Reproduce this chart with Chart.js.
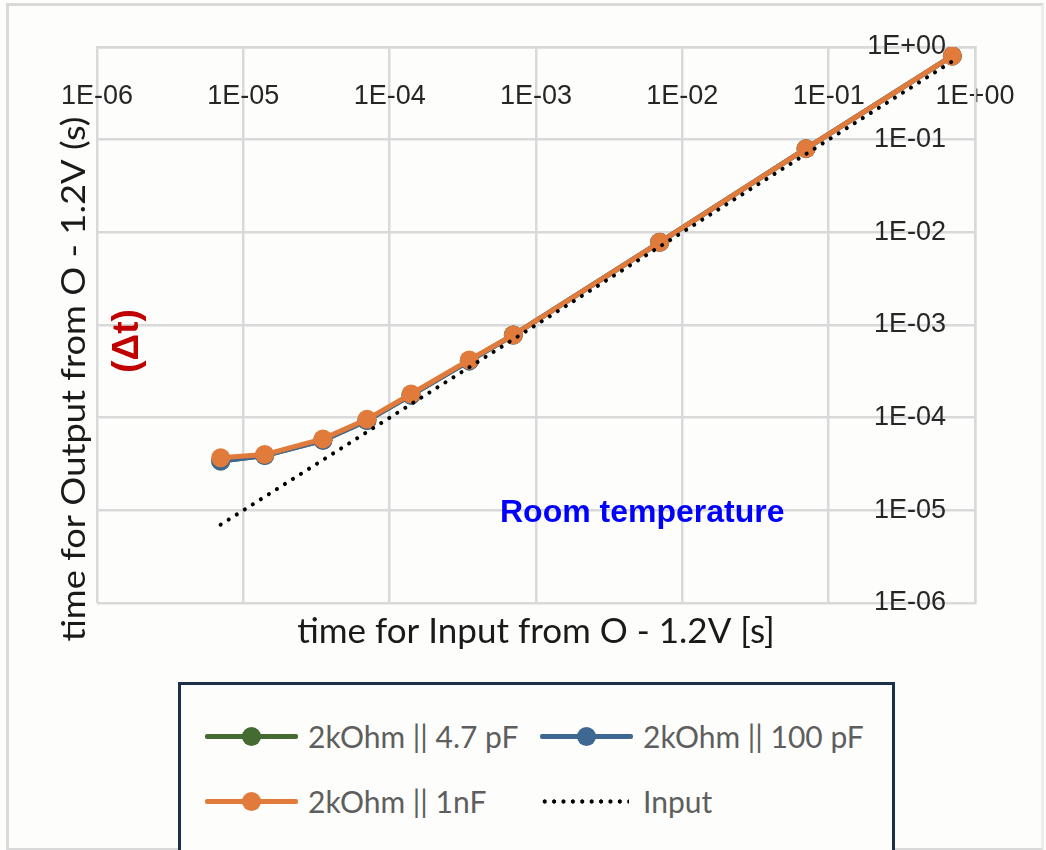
<!DOCTYPE html>
<html>
<head>
<meta charset="utf-8">
<script src="https://cdn.jsdelivr.net/npm/chart.js@4/dist/chart.umd.min.js"></script>
<style>
  html, body { margin: 0; padding: 0; background: #fdfdfc; }
  .frame {
    position: absolute; left: 6px; top: 3px; width: 1032px; height: 842px;
    border: 3px solid #d9d9d9; border-right-color: #ececec;
  }
  .contenedor { position: absolute; left: 0; top: 0; width: 1046px; height: 850px; }
  .leyenda {
    position: absolute; left: 178px; top: 682px; width: 711px; height: 200px;
    border: 3px solid #1c3049; background: #fdfdfc;
    font-family: Lato, sans-serif; font-size: 30px; color: #5e5e5e;
  }
  .item { position: absolute; display: flex; align-items: center; height: 30px; }
  .muestra { position: relative; width: 93px; height: 19px; margin-right: 10px; }
  .muestra .linea { position: absolute; left: 0; right: 0; top: 7px; height: 5px; border-radius: 2px; }
  .muestra .punto { position: absolute; left: 37px; top: 0; width: 19px; height: 19px; border-radius: 50%; }
  .muestra .puntos {
    position: absolute; left: 0; right: 4px; top: 6px; height: 7px;
    background-image: radial-gradient(circle, #000 1.9px, transparent 2.4px);
    background-size: 9.4px 7px;
  }
</style>
</head>
<body>
<div class="frame"></div>
<div class="contenedor"><canvas id="Grafico" width="1046" height="850"></canvas></div>
<div class="leyenda" id="leyenda"></div>
<script>
// input ramp times (s) and output times for each RC load
const inputTimes = [7e-6, 1.4e-5, 3.5e-5, 7e-5, 1.4e-4, 3.5e-4, 7e-4, 7e-3, 7e-2, 0.7];
const out4p7pF = [3.4e-5, 3.9e-5, 5.7e-5, 9.3e-5, 1.75e-4, 4.1e-4, 7.8e-4, 7.8e-3, 8.0e-2, 0.8];
const out100pF = [3.4e-5, 3.9e-5, 5.7e-5, 9.3e-5, 1.75e-4, 4.1e-4, 7.8e-4, 7.8e-3, 8.0e-2, 0.8];
const out1nF = [3.7e-5, 4.0e-5, 5.9e-5, 9.6e-5, 1.8e-4, 4.2e-4, 7.8e-4, 7.8e-3, 8.0e-2, 0.8];
const inputLine = [7e-6, 1.4e-5, 3.5e-5, 7e-5, 1.4e-4, 3.5e-4, 7e-4, 7e-3, 7e-2, 0.7];

const decadeTicks = [1e-6, 1e-5, 1e-4, 1e-3, 1e-2, 1e-1, 1];
const decadeLabels = ['1E-06', '1E-05', '1E-04', '1E-03', '1E-02', '1E-01', '1E+00'];

const seriesNames = ['2kOhm || 4.7 pF', '2kOhm || 100 pF', '2kOhm || 1nF', 'Input'];
const seriesColors = ['#436b32', '#3e6792', '#e07b3c', '#000000'];

function pairs(ys) {
    return inputTimes.map((x, i) => ({ x: x, y: ys[i] }));
}

function serie(idx, ys) {
    return {
        label: seriesNames[idx],
        data: pairs(ys),
        borderColor: seriesColors[idx],
        backgroundColor: seriesColors[idx],
        borderWidth: 5,
        pointRadius: 9.5,
        pointHoverRadius: 9.5,
        pointBorderWidth: 0,
        order: 3 - idx   // first series at the bottom, 1nF above it
    };
}

function soloDecadas(axis) {
    axis.ticks = decadeTicks.map(v => ({ value: v }));
}

function etiqueta(value) {
    const i = decadeTicks.findIndex(v => Math.abs(Math.log10(v) - Math.log10(value)) < 1e-6);
    return i >= 0 ? decadeLabels[i] : '';
}

// titles and notes around the plot area
const textos = {
    id: 'textos',
    afterDraw(chart) {
        const ctx = chart.ctx;
        const a = chart.chartArea;
        ctx.save();
        ctx.textAlign = 'center';
        ctx.textBaseline = 'middle';

        ctx.fillStyle = '#1a1a1a';
        ctx.font = '35px Lato';
        ctx.fillText('time for Input from O - 1.2V [s]', (a.left + a.right) / 2, a.bottom + 29);

        // y title: a bit taller than wide, like the x title
        ctx.save();
        ctx.translate(a.left - 23, a.top + 332);
        ctx.rotate(-Math.PI / 2);
        ctx.scale(1.1, 1);
        ctx.font = '33px Lato';
        ctx.fillText('time for Output from O - 1.2V (s)', 0, 0);
        ctx.restore();

        ctx.save();
        ctx.translate(a.left + 31, a.top + 294);
        ctx.rotate(-Math.PI / 2);
        ctx.fillStyle = '#c00000';
        ctx.font = 'bold 37px "Liberation Sans"';
        ctx.fillText('(\u0394t)', 0, 0);
        ctx.restore();

        ctx.fillStyle = '#0000ff';
        ctx.font = 'bold 32px "Liberation Sans"';
        ctx.textAlign = 'left';
        ctx.fillText('Room temperature', 500, a.top + 466);
        ctx.restore();
    }
};

const ctx = document.getElementById('Grafico').getContext('2d');
const grafico = new Chart(ctx, {
    type: 'line',
    data: {
        datasets: [
            serie(0, out4p7pF),
            serie(1, out100pF),
            serie(2, out1nF),
            {
                label: seriesNames[3],
                data: pairs(inputLine),
                borderColor: '#000000',
                borderWidth: 4,
                borderDash: [0.1, 9.4],
                borderCapStyle: 'round',
                pointRadius: 0,
                order: 0
            }
        ]
    },
    options: {
        responsive: false,
        animation: false,
        layout: { padding: { left: 97, right: 71, top: 31, bottom: 247 } },
        plugins: {
            legend: { display: false },
            tooltip: { enabled: false }
        },
        scales: {
            x: {
                type: 'logarithmic',
                position: 'top',
                min: 1e-6,
                max: 1,
                afterBuildTicks: soloDecadas,
                grid: { color: '#d9d9d9', lineWidth: 2.5, drawTicks: false },
                border: { color: '#d9d9d9', width: 2.5 },
                ticks: {
                    mirror: true,
                    padding: 8,
                    maxRotation: 0,
                    autoSkip: false,
                    color: '#262626',
                    font: { family: '"Liberation Sans"', size: 27, lineHeight: 3.1 },
                    callback: etiqueta
                }
            },
            y: {
                type: 'logarithmic',
                position: 'right',
                min: 1e-6,
                max: 1,
                afterBuildTicks: soloDecadas,
                grid: { color: '#d9d9d9', lineWidth: 2.5, drawTicks: false },
                border: { color: '#d9d9d9', width: 2.5 },
                ticks: {
                    mirror: true,
                    padding: -29,
                    autoSkip: false,
                    color: '#262626',
                    font: { family: '"Liberation Sans"', size: 27 },
                    callback: etiqueta
                }
            }
        }
    },
    plugins: [textos]
});

// legend built from the chart's own datasets
const leyenda = document.getElementById('leyenda');
const posiciones = [[24, 36], [359, 36], [24, 101], [359, 101]];
grafico.data.datasets.forEach((ds, i) => {
    const item = document.createElement('div');
    item.className = 'item';
    item.style.left = posiciones[i][0] + 'px';
    item.style.top = posiciones[i][1] + 'px';
    const muestra = document.createElement('div');
    muestra.className = 'muestra';
    if (ds.borderDash) {
        muestra.innerHTML = '<div class="puntos"></div>';
    } else {
        muestra.innerHTML = '<div class="linea" style="background:' + ds.borderColor + '"></div>' +
            '<div class="punto" style="background:' + ds.borderColor + '"></div>';
    }
    const texto = document.createElement('span');
    texto.textContent = ds.label;
    item.appendChild(muestra);
    item.appendChild(texto);
    leyenda.appendChild(item);
});
</script>
</body>
</html>
